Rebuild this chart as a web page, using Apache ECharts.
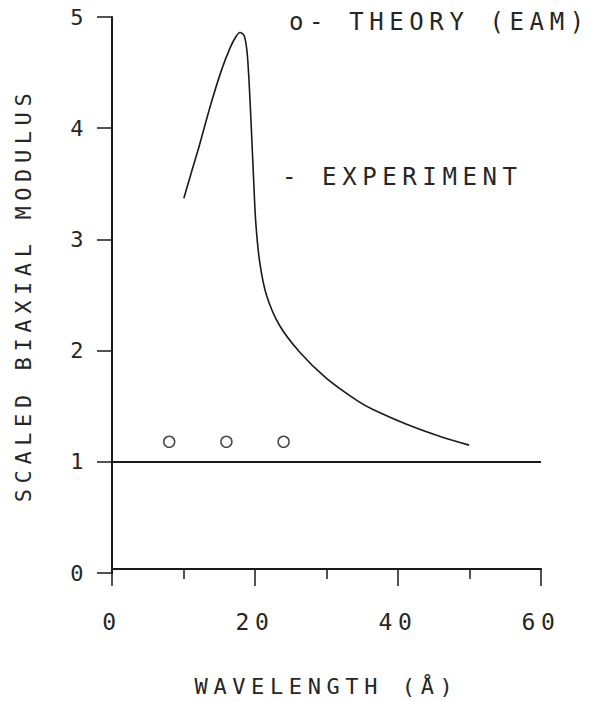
<!DOCTYPE html>
<html>
<head>
<meta charset="utf-8">
<script src="https://cdn.jsdelivr.net/npm/echarts@6/dist/echarts.min.js"></script>
<style>
    html, body { margin: 0; padding: 0; background: #fff; }
    #main { width: 596px; height: 702px; }
    /* plotter style lettering: wide character pitch */
    #main text { letter-spacing: 5.6px; }
</style>
</head>
<body>
<div id="main"></div>
<script>
// experiment curve, wavelength (Å) vs scaled biaxial modulus
var expX = [10.05, 11.0, 12.2, 13.75, 15.3, 16.5, 17.3, 17.9, 18.5, 18.9, 19.2, 19.5, 19.8, 20.1, 20.65, 21.6, 23.4, 26.2, 30.0, 34.4, 36.5, 41.1, 45.8, 49.95];
var expY = [3.37, 3.58, 3.84, 4.20, 4.52, 4.72, 4.82, 4.86, 4.83, 4.68, 4.38, 3.98, 3.55, 3.16, 2.80, 2.50, 2.23, 1.99, 1.75, 1.545, 1.47, 1.34, 1.23, 1.15];

// EAM theory points
var theoryX = [8, 16, 24];
var theoryY = [1.18, 1.18, 1.18];

// reference line and axis labels
var unityLevel = 1;
var xTickLabels = ['0', '20', '40', '60'];
var yTickLabels = ['0', '1', '2', '3', '4', '5'];
var xTitle = 'WAVELENGTH (Å)';
var yTitle = 'SCALED BIAXIAL MODULUS';
var legendTheory = 'o- THEORY (EAM)';
var legendExp = '- EXPERIMENT';

var FONT = '"DejaVu Sans Mono", monospace';
var INK = '#1a1a1a';
var TEXT = '#262626';

function pairs(xs, ys) {
    var out = [];
    for (var i = 0; i < xs.length; i++) {
        out.push([xs[i], ys[i]]);
    }
    return out;
}

var chart = echarts.init(document.getElementById('main'), null, { renderer: 'svg' });

var option = {
    backgroundColor: '#fff',
    animation: false,
    grid: {
        left: 112,
        right: 55,
        top: 17,
        bottom: 126
    },
    xAxis: {
        type: 'value',
        min: 0,
        max: 60,
        interval: 20,
        offset: -4,
        name: xTitle,
        nameLocation: 'middle',
        nameGap: 106,
        nameTextStyle: { fontFamily: FONT, fontSize: 22, color: TEXT },
        splitLine: { show: false },
        axisLine: { lineStyle: { color: INK, width: 2 } },
        axisTick: { length: 17, lineStyle: { color: INK, width: 1.5 } },
        minorTick: { show: true, splitNumber: 2, length: 10, lineStyle: { color: INK, width: 1.5 } },
        axisLabel: {
            margin: 41,
            fontFamily: FONT,
            fontSize: 23,
            color: TEXT,
            formatter: function (v) {
                return xTickLabels[v / 20];
            }
        }
    },
    yAxis: {
        type: 'value',
        min: 0,
        max: 5,
        interval: 1,
        name: yTitle,
        nameLocation: 'middle',
        nameGap: 78,
        nameRotate: 90,
        nameTextStyle: { fontFamily: FONT, fontSize: 22, color: TEXT },
        splitLine: { show: false },
        axisLine: { lineStyle: { color: INK, width: 2 } },
        axisTick: { length: 15, lineStyle: { color: INK, width: 1.5 } },
        axisLabel: {
            margin: 23,
            fontFamily: FONT,
            fontSize: 22,
            color: TEXT,
            formatter: function (v) {
                return yTickLabels[v];
            }
        }
    },
    graphic: [
        {
            type: 'text',
            left: 289,
            top: 10,
            style: { text: legendTheory, font: '24px ' + FONT, fill: TEXT }
        },
        {
            type: 'text',
            left: 282,
            top: 165,
            style: { text: legendExp, font: '24px ' + FONT, fill: TEXT }
        }
    ],
    series: [
        {
            name: 'Experiment',
            type: 'line',
            smooth: 0.3,
            symbol: 'none',
            lineStyle: { color: INK, width: 1.6 },
            data: pairs(expX, expY),
            markLine: {
                silent: true,
                symbol: 'none',
                label: { show: false },
                lineStyle: { color: INK, width: 2, type: 'solid' },
                data: [{ yAxis: unityLevel }]
            }
        },
        {
            name: 'Theory (EAM)',
            type: 'scatter',
            symbol: 'circle',
            symbolSize: 11,
            itemStyle: { color: '#fff', borderColor: INK, borderWidth: 1.5 },
            data: pairs(theoryX, theoryY)
        }
    ]
};

chart.setOption(option);
</script>
</body>
</html>
